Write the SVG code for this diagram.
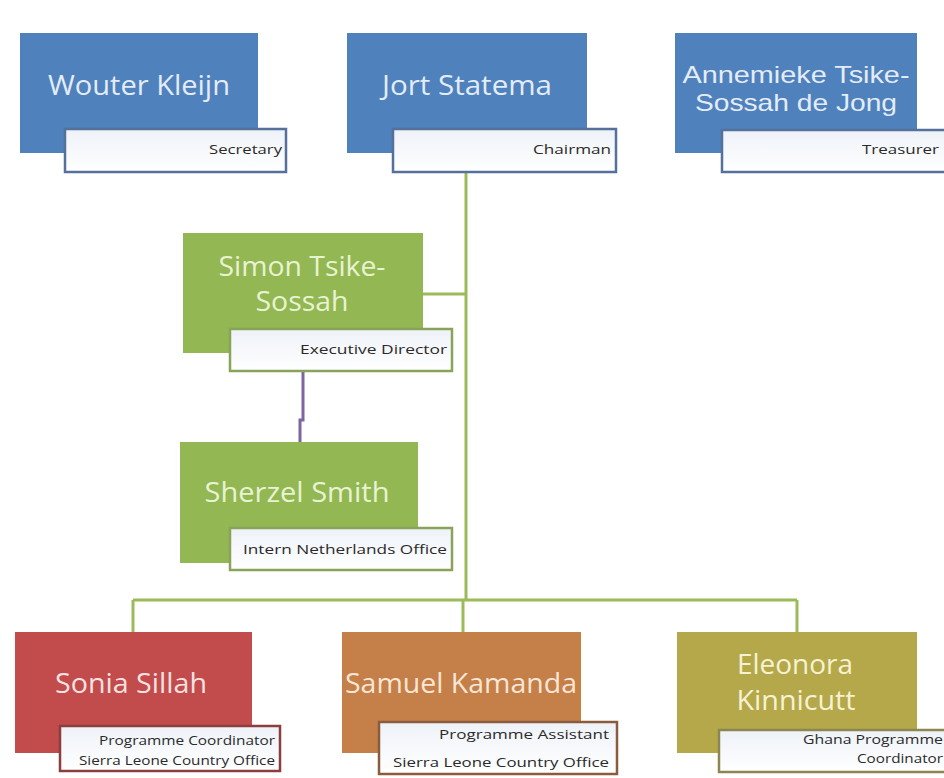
<svg xmlns="http://www.w3.org/2000/svg" width="944" height="778" viewBox="0 0 944 778">
<defs>
<linearGradient id="lg" x1="0" y1="0" x2="0" y2="1">
<stop offset="0" stop-color="#eef2f8"/>
<stop offset="1" stop-color="#ffffff"/>
</linearGradient>
<style>
.name{font-family:"Open Sans","Liberation Sans",sans-serif;font-size:27px;text-anchor:middle}
.name2{font-family:"Liberation Sans",sans-serif;font-size:24px}
.lbl{font-family:"Open Sans","Liberation Sans",sans-serif;font-size:12px;fill:#2a2a2a;text-anchor:end}
.lb{fill:url(#lg);stroke-width:2.5}
.conn{fill:none;stroke:#9bbb59;stroke-width:3}
.blue rect.n{fill:#4f81bd}
.blue .lb{stroke:#56709c}
.blue text.name{fill:#e4ecf7}
.green rect.n{fill:#93b753}
.green .lb{stroke:#8aa35a}
.green text.name{fill:#e8f3d2}
</style>
</defs>
<rect width="944" height="778" fill="#ffffff"/>
<g id="connectors">
<path class="conn" d="M466 173 V600 M423 294 H466 M133 600 H797 M133 600 V632 M463 600 V632 M797 600 V632"/>
<path d="M303 372 V420 H300 V442" fill="none" stroke="#7f64a2" stroke-width="3"/>
</g>
<g id="wouter" class="blue">
<rect class="n" x="20" y="33" width="238" height="120"/>
<text class="name" x="139" y="95" textLength="182" lengthAdjust="spacingAndGlyphs">Wouter Kleijn</text>
<rect class="lb" x="65" y="129" width="221" height="43"/>
<text class="lbl" x="282" y="154" textLength="73" lengthAdjust="spacingAndGlyphs">Secretary</text>
</g>
<g id="jort" class="blue">
<rect class="n" x="347" y="33" width="240" height="120"/>
<text class="name" x="467" y="95" textLength="170" lengthAdjust="spacingAndGlyphs">Jort Statema</text>
<rect class="lb" x="393" y="129" width="223" height="43"/>
<text class="lbl" x="611" y="154" textLength="78" lengthAdjust="spacingAndGlyphs">Chairman</text>
</g>
<g id="annemieke" class="blue">
<rect class="n" x="675" y="33" width="242" height="120"/>
<text class="name name2" x="796" y="83" textLength="227" lengthAdjust="spacingAndGlyphs">Annemieke Tsike-</text>
<text class="name name2" x="796" y="111" textLength="202" lengthAdjust="spacingAndGlyphs">Sossah de Jong</text>
<rect class="lb" x="722" y="130" width="226" height="42"/>
<text class="lbl" x="939" y="154" textLength="77" lengthAdjust="spacingAndGlyphs">Treasurer</text>
</g>
<g id="simon" class="green">
<rect class="n" x="183" y="233" width="240" height="120"/>
<text class="name" x="302" y="276" textLength="167" lengthAdjust="spacingAndGlyphs">Simon Tsike-</text>
<text class="name" x="302" y="311" textLength="93" lengthAdjust="spacingAndGlyphs">Sossah</text>
<rect class="lb" x="230" y="329" width="222" height="42"/>
<text class="lbl" x="447" y="354" textLength="147" lengthAdjust="spacingAndGlyphs">Executive Director</text>
</g>
<g id="sherzel" class="green">
<rect class="n" x="180" y="442" width="238" height="121"/>
<text class="name" x="297" y="502" textLength="185" lengthAdjust="spacingAndGlyphs">Sherzel Smith</text>
<rect class="lb" x="230" y="528" width="222" height="42"/>
<text class="lbl" x="447" y="554" textLength="204" lengthAdjust="spacingAndGlyphs">Intern Netherlands Office</text>
</g>
<g id="sonia">
<rect x="15" y="632" width="237" height="121" fill="#c24b4b"/>
<text class="name" x="131" y="693" fill="#f8e2e2" textLength="152" lengthAdjust="spacingAndGlyphs">Sonia Sillah</text>
<rect class="lb" x="60" y="726" width="220" height="45" stroke="#8c3d3d"/>
<text class="lbl" x="275" y="745" textLength="176" lengthAdjust="spacingAndGlyphs">Programme Coordinator</text>
<text class="lbl" x="275" y="765" textLength="196" lengthAdjust="spacingAndGlyphs">Sierra Leone Country Office</text>
</g>
<g id="samuel">
<rect x="342" y="632" width="239" height="121" fill="#c57f48"/>
<text class="name" x="461" y="693" fill="#f9e6d6" textLength="232" lengthAdjust="spacingAndGlyphs">Samuel Kamanda</text>
<rect class="lb" x="379" y="722" width="238" height="52" stroke="#8a5b3c"/>
<text class="lbl" x="609" y="739" textLength="170" lengthAdjust="spacingAndGlyphs">Programme Assistant</text>
<text class="lbl" x="609" y="767" textLength="216" lengthAdjust="spacingAndGlyphs">Sierra Leone Country Office</text>
</g>
<g id="eleonora">
<rect x="677" y="632" width="240" height="121" fill="#b5a84a"/>
<text class="name" x="795" y="674" fill="#f6f2d2" textLength="116" lengthAdjust="spacingAndGlyphs">Eleonora</text>
<text class="name" x="796" y="710" fill="#f6f2d2" textLength="119" lengthAdjust="spacingAndGlyphs">Kinnicutt</text>
<rect class="lb" x="719" y="730" width="230" height="42" stroke="#8c8650"/>
<text class="lbl" x="943" y="744" textLength="140" lengthAdjust="spacingAndGlyphs">Ghana Programme</text>
<text class="lbl" x="943" y="763" textLength="86" lengthAdjust="spacingAndGlyphs">Coordinator</text>
</g>
</svg>
